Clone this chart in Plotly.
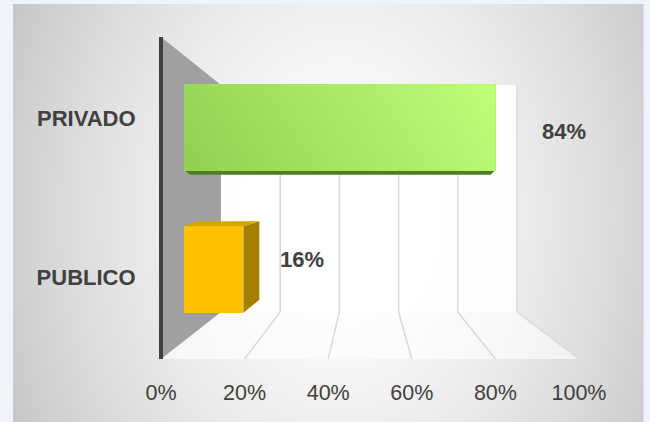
import base64
import struct
import zlib

import numpy as np
import plotly.graph_objects as go

# ---------------- data ----------------
categories = ["PUBLICO", "PRIVADO"]
values = [0.16, 0.84]
value_labels = ["16%", "84%"]
tick_values = [0, 0.2, 0.4, 0.6, 0.8, 1.0]
tick_labels = ["0%", "20%", "40%", "60%", "80%", "100%"]

# ---------------- styling / geometry (pixels of the 650x422 page) ----------------
W, H = 650, 422
FRONT_X0, FRONT_W = 161, 418     # front floor edge 0%..100%
BACK_X0, BACK_W = 221, 296       # back wall 0%..100%
BAR_X0, BAR_W = 184, 371         # bar front faces 0%..100%
PLOT_TOP, PLOT_BOT = 37, 359
BACK_TOP, BACK_BOT = 85, 312
BAR_Y0, BAR_STEP = 269.5, 142    # centre of first bar, spacing between bars
BAR_THICK = 0.61
LAB_Y0, LAB_STEP = 277, 159      # category label positions
TEXT = "#404040"
FONT = "Liberation Sans, Arial, sans-serif"
bar_colors = ["#ffc000", "#a6e064"]
label_shift = [(35, 10), (44, -4)]


def fx(p):
    return p / W


def fy(p):
    return 1 - p / H


def front_px(v):
    return FRONT_X0 + FRONT_W * v


def back_px(v):
    return BACK_X0 + BACK_W * v


def bar_px(v):
    return BAR_X0 + BAR_W * v


def png_uri(arr):
    h, w, _ = arr.shape
    raw = b"".join(b"\x00" + arr[i].tobytes() for i in range(h))

    def chunk(tag, data):
        c = struct.pack(">I", len(data)) + tag + data
        return c + struct.pack(">I", zlib.crc32(tag + data) & 0xFFFFFFFF)

    png = (b"\x89PNG\r\n\x1a\n"
           + chunk(b"IHDR", struct.pack(">IIBBBBB", w, h, 8, 2, 0, 0, 0))
           + chunk(b"IDAT", zlib.compress(raw, 9))
           + chunk(b"IEND", b""))
    return "data:image/png;base64," + base64.b64encode(png).decode()


# background radial gradient of the chart area
CA_X0, CA_Y0, CA_X1, CA_Y1 = 13, 4, 643, 422
gw, gh = CA_X1 - CA_X0, CA_Y1 - CA_Y0
yy, xx = np.mgrid[0:gh, 0:gw].astype(float)
xx += CA_X0
yy += CA_Y0
d = np.sqrt(((xx - 340) / 330) ** 2 + ((yy - 215) / 440) ** 2)
c = 255 - 48 * np.minimum(d, 1.3) ** 1.55
bg = np.clip(np.stack([c, c, c], axis=-1), 0, 255).astype(np.uint8)
bg_uri = png_uri(bg)

# green bar gradient
bw, bh = 200, 40
gy, gx = np.mgrid[0:bh, 0:bw].astype(float)
t = np.clip(gx / (bw - 1) * 0.85 + (1 - gy / (bh - 1)) * 0.15, 0, 1)
c0 = np.array([0x92, 0xD0, 0x50], float)
c1 = np.array([0xC0, 0xFF, 0x78], float)
green = (c0[None, None, :] * (1 - t[..., None]) + c1[None, None, :] * t[..., None]).astype(np.uint8)
green_uri = png_uri(green)

# ---------------- axes ranges ----------------
xa = -(BAR_X0 - FRONT_X0) / BAR_W
xb = xa + FRONT_W / BAR_W
ylo = (BAR_Y0 - PLOT_BOT) / BAR_STEP
yhi = (BAR_Y0 - PLOT_TOP) / BAR_STEP
y2lo = (LAB_Y0 - PLOT_BOT) / LAB_STEP
y2hi = (LAB_Y0 - PLOT_TOP) / LAB_STEP
xdom = [fx(FRONT_X0), fx(FRONT_X0 + FRONT_W)]
ydom = [fy(PLOT_BOT), fy(PLOT_TOP)]

positions = list(range(len(categories)))

fig = go.Figure()
fig.add_trace(go.Bar(
    x=values, y=positions, orientation="h", width=BAR_THICK,
    marker=dict(color=bar_colors, line=dict(width=0)),
    hoverinfo="skip", showlegend=False,
))
fig.add_trace(go.Scatter(x=[0], y=[0], xaxis="x2", yaxis="y", mode="markers",
                         marker=dict(opacity=0), hoverinfo="skip", showlegend=False))
fig.add_trace(go.Scatter(x=[0], y=[0], xaxis="x", yaxis="y2", mode="markers",
                         marker=dict(opacity=0), hoverinfo="skip", showlegend=False))

shapes = []


def path(points):
    s = "M " + " L ".join(f"{fx(px):.5f},{fy(py):.5f}" for px, py in points) + " Z"
    return s


# back wall and floor
shapes.append(dict(type="path", xref="paper", yref="paper", layer="below",
                   path=path([(back_px(0), BACK_TOP), (back_px(1), BACK_TOP),
                              (back_px(1), BACK_BOT), (back_px(0), BACK_BOT)]),
                   fillcolor="rgba(255,255,255,0.9)", line=dict(width=0)))
shapes.append(dict(type="path", xref="paper", yref="paper", layer="below",
                   path=path([(back_px(0), BACK_BOT), (back_px(1), BACK_BOT),
                              (front_px(1), PLOT_BOT), (front_px(0), PLOT_BOT)]),
                   fillcolor="rgba(255,255,255,0.6)", line=dict(width=0)))
# left side wall
shapes.append(dict(type="path", xref="paper", yref="paper", layer="below",
                   path=path([(front_px(0), PLOT_TOP), (back_px(0), BACK_TOP),
                              (back_px(0), BACK_BOT), (front_px(0), PLOT_BOT)]),
                   fillcolor="#a0a0a0", line=dict(width=0)))
# gridlines
for v in tick_values[1:]:
    shapes.append(dict(type="line", xref="paper", yref="paper", layer="below",
                       x0=fx(back_px(v)), x1=fx(back_px(v)), y0=fy(BACK_TOP), y1=fy(BACK_BOT),
                       line=dict(color="#d9d9d9", width=1.5)))
    shapes.append(dict(type="line", xref="paper", yref="paper", layer="below",
                       x0=fx(back_px(v)), x1=fx(front_px(v)), y0=fy(BACK_BOT), y1=fy(PLOT_BOT),
                       line=dict(color="#d9d9d9", width=1.5)))
# dark axis line
shapes.append(dict(type="line", xref="paper", yref="paper", layer="above",
                   x0=fx(front_px(0)), x1=fx(front_px(0)), y0=fy(PLOT_TOP), y1=fy(PLOT_BOT),
                   line=dict(color="#404040", width=4)))
# chart-area right border
shapes.append(dict(type="line", xref="paper", yref="paper", layer="above",
                   x0=fx(CA_X1), x1=fx(CA_X1), y0=fy(CA_Y0), y1=fy(CA_Y1),
                   line=dict(color="#c8ccd2", width=1)))

images = [dict(source=bg_uri, xref="paper", yref="paper", x=fx(CA_X0), y=fy(CA_Y0),
               sizex=(CA_X1 - CA_X0) / W, sizey=(CA_Y1 - CA_Y0) / H,
               xanchor="left", yanchor="top", sizing="stretch", layer="below")]

annotations = []
for i, (cat, v) in enumerate(zip(categories, values)):
    r = bar_px(v)
    top = BAR_Y0 - BAR_STEP * i - BAR_THICK * BAR_STEP / 2
    bot = BAR_Y0 - BAR_STEP * i + BAR_THICK * BAR_STEP / 2
    if i == 0:
        # 3D top and side faces
        shapes.append(dict(type="path", xref="paper", yref="paper", layer="above",
                           path=path([(r, top), (r + 16, top - 5), (r + 16, bot - 13), (r, bot)]),
                           fillcolor="#a67f00", line=dict(width=0)))
        shapes.append(dict(type="path", xref="paper", yref="paper", layer="above",
                           path=path([(bar_px(0), top), (r, top), (r + 16, top - 5),
                                      (bar_px(0) + 13, top - 5)]),
                           fillcolor="#d9a300", line=dict(width=0)))
    else:
        shapes.append(dict(type="path", xref="paper", yref="paper", layer="below",
                           path=path([(bar_px(0), bot - 1), (r, bot - 1), (r - 5, bot + 4),
                                      (bar_px(0) + 6, bot + 4)]),
                           fillcolor="#4f7d24", line=dict(width=0)))
        images.append(dict(source=green_uri, xref="x", yref="y", x=0, y=i + BAR_THICK / 2,
                           sizex=v, sizey=BAR_THICK, xanchor="left", yanchor="top",
                           sizing="stretch", layer="above"))
    dx, dy = label_shift[i]
    annotations.append(dict(x=v, y=i, xref="x", yref="y", text=value_labels[i],
                            showarrow=False, xanchor="left", yanchor="middle",
                            xshift=dx, yshift=dy,
                            font=dict(family=FONT, size=22, color=TEXT, weight="bold")))

fig.update_layout(
    width=W, height=H, margin=dict(l=0, r=0, t=0, b=0, autoexpand=False),
    paper_bgcolor="#eff3fb", plot_bgcolor="rgba(0,0,0,0)",
    showlegend=False, bargap=0,
    font=dict(family=FONT, color=TEXT),
    xaxis=dict(domain=xdom, range=[xa, xb], visible=False, fixedrange=True, automargin=False),
    yaxis=dict(domain=ydom, range=[ylo, yhi], visible=False, fixedrange=True, automargin=False),
    xaxis2=dict(overlaying="x", anchor="y", side="bottom", domain=xdom, range=[0, 1],
                tickvals=tick_values, ticktext=tick_labels, ticks="outside", ticklen=14,
                tickcolor="rgba(0,0,0,0)", showgrid=False, zeroline=False, showline=False,
                tickfont=dict(family=FONT, size=21.5, color=TEXT), fixedrange=True,
                automargin=False),
    yaxis2=dict(overlaying="y", anchor="x", side="left", domain=ydom, range=[y2lo, y2hi],
                tickvals=positions, ticktext=categories, ticks="outside", ticklen=20,
                tickcolor="rgba(0,0,0,0)", showgrid=False, zeroline=False, showline=False,
                tickfont=dict(family=FONT, size=22, color=TEXT, weight="bold"), fixedrange=True,
                automargin=False),
    shapes=shapes, images=images, annotations=annotations,
)

fig.write_html("out.html", config={"displayModeBar": False},
               post_script="document.body.style.margin='0px';document.body.style.overflow='hidden';")
